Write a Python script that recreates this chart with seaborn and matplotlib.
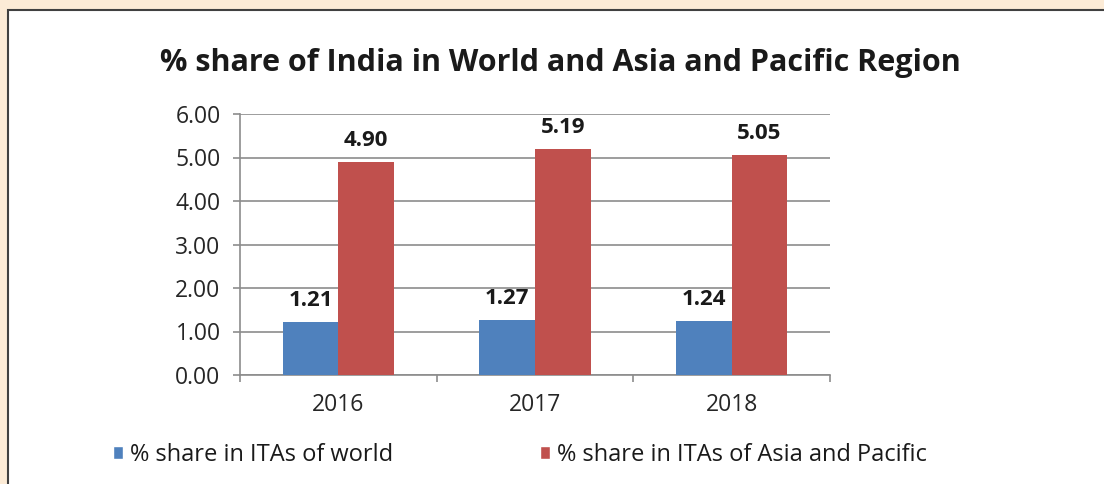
import matplotlib
matplotlib.use('Agg')
import matplotlib.pyplot as plt
from matplotlib.patches import Rectangle, Patch
import seaborn as sns
import pandas as pd

years = ['2016', '2017', '2018']
world_share = [1.21, 1.27, 1.24]
asia_pacific_share = [4.90, 5.19, 5.05]
series_names = ['% share in ITAs of world', '% share in ITAs of Asia and Pacific']
title = '% share of India in World and Asia and Pacific Region'

COLOR_W, COLOR_A = '#4F81BD', '#C0504D'
BG = '#FCEBD6'

df = pd.DataFrame({
    'year': years * 2,
    'share': world_share + asia_pacific_share,
    'series': [series_names[0]] * 3 + [series_names[1]] * 3,
})

sns.set_style('white')
plt.rcParams['font.family'] = ['Open Sans', 'DejaVu Sans']

fig = plt.figure(figsize=(11.04, 4.84), dpi=100)
fig.patch.set_facecolor(BG)
W, H = 1104, 484
# white panel with dark border (runs off the right / bottom edge)
fig.patches.append(Rectangle((8 / W, -0.05), 1.1, 1 - 10 / H + 0.05,
                             transform=fig.transFigure, facecolor='white',
                             edgecolor='#404040', linewidth=1.5, zorder=-5))

ax = fig.add_axes([240 / W, 1 - 375 / H, 590 / W, 261 / H])
ax.set_facecolor('white')
sns.barplot(data=df, x='year', y='share', hue='series', order=years,
            hue_order=series_names, palette=[COLOR_W, COLOR_A],
            width=0.565, saturation=1, linewidth=0, ax=ax, legend=False,
            zorder=3)

ax.set_ylim(0, 6)
ax.set_xlim(-0.5, 2.5)
ax.set_yticks([0, 1, 2, 3, 4, 5, 6])
ax.set_yticklabels([f'{v:.2f}' for v in [0, 1, 2, 3, 4, 5, 6]])
ax.yaxis.grid(True, color='#8C8C8C', linewidth=1.2, zorder=0)
ax.set_axisbelow(True)
ax.set_xlabel('')
ax.set_ylabel('')

for s in ['top', 'right']:
    ax.spines[s].set_visible(False)
for s in ['left', 'bottom']:
    ax.spines[s].set_color('#8C8C8C')
    ax.spines[s].set_linewidth(1.2)

ax.tick_params(axis='y', which='major', length=5, width=1.2, color='#8C8C8C',
               left=True, pad=9, labelsize=16.5, labelcolor='#262626')
ax.tick_params(axis='x', which='major', length=0, pad=13, labelsize=16.5,
               labelcolor='#262626')
ax.set_xticks([-0.5, 0.5, 1.5, 2.5], minor=True)
ax.tick_params(axis='x', which='minor', length=5, width=1.2, color='#8C8C8C',
               bottom=True)

for cont in ax.containers:
    ax.bar_label(cont, labels=[f'{v:.2f}' for v in cont.datavalues],
                 padding=8, fontsize=16, fontweight='bold', color='#1a1a1a')

fig.text(560 / W, 1 - 63 / H, title, ha='center', va='center',
         fontsize=22, fontweight='bold', color='#1a1a1a')

handles = [Patch(facecolor=COLOR_W), Patch(facecolor=COLOR_A)]
fig.legend(handles, series_names, loc='center left',
           bbox_to_anchor=(92 / W, 1 - 455 / H), ncol=2, frameon=False,
           fontsize=17, handlelength=0.42, handleheight=0.42,
           handletextpad=0.3, columnspacing=6.2, labelcolor='#1a1a1a')

fig.savefig('out.png', dpi=100, facecolor=BG)
